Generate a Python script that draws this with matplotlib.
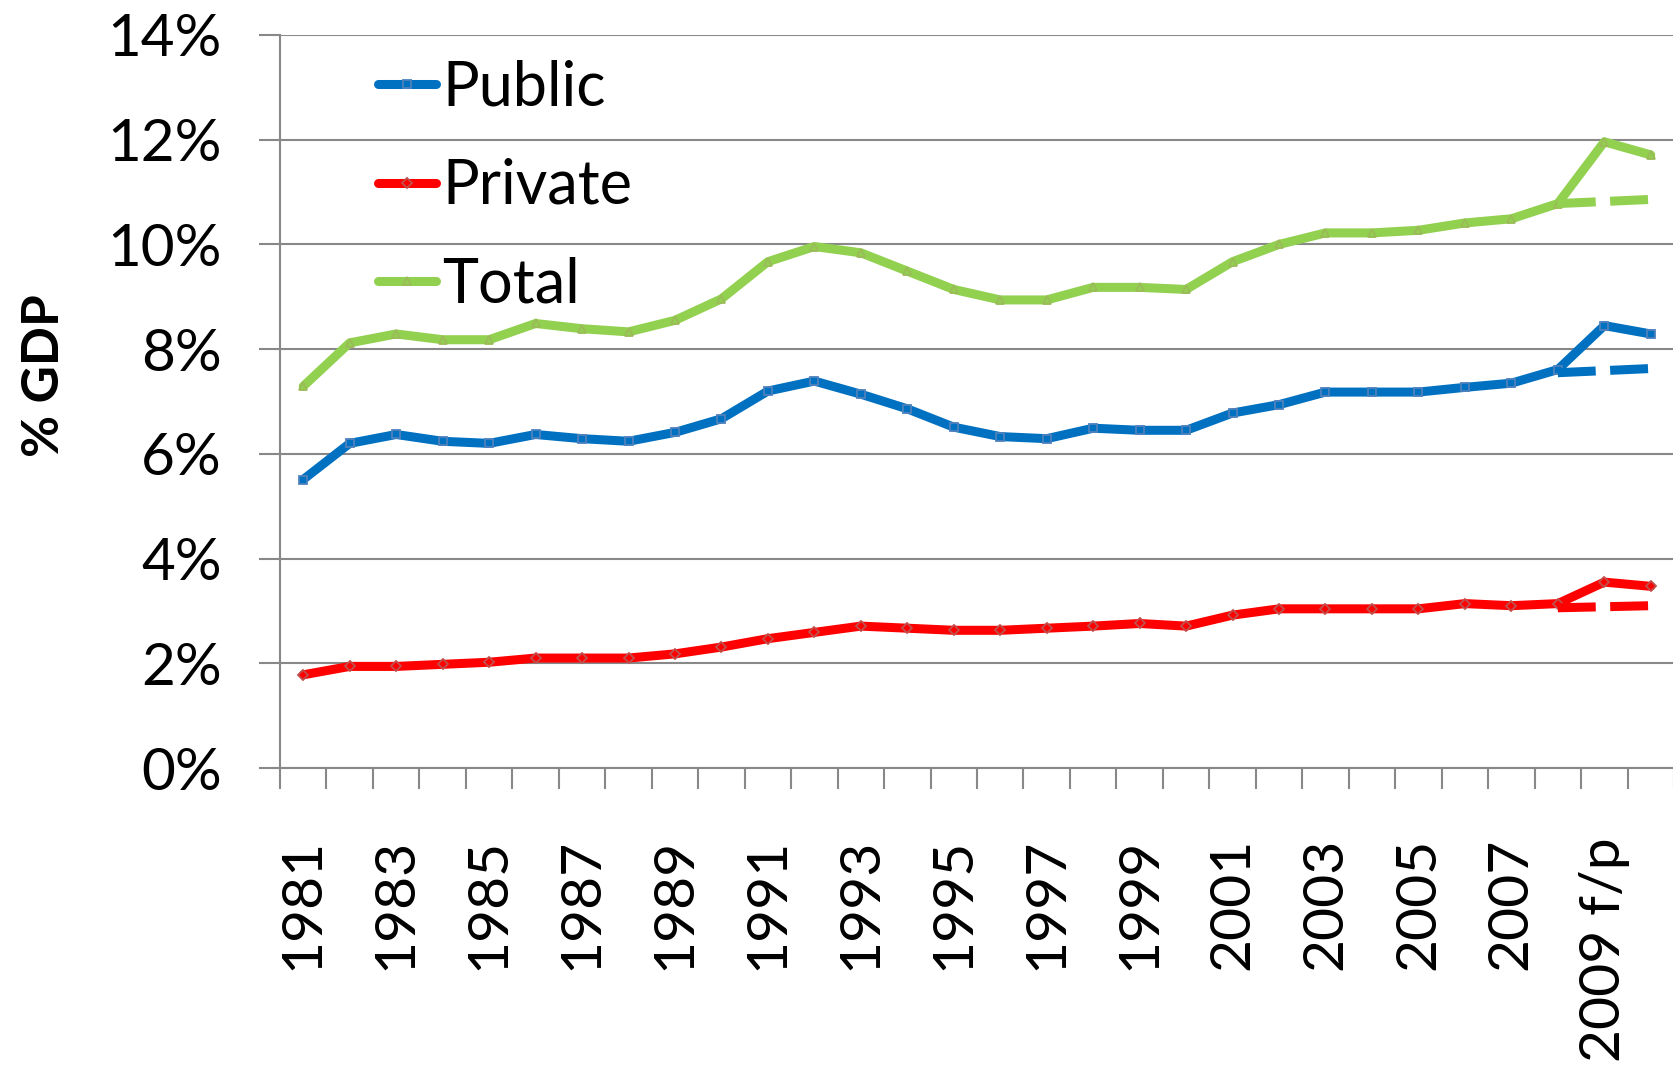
import numpy as np
import matplotlib
matplotlib.use('Agg')
import matplotlib.pyplot as plt
from matplotlib.ticker import FixedLocator, PercentFormatter

plt.rcParams['font.family'] = ['Lato', 'DejaVu Sans']

years = list(range(1981, 2011))
tick_labels = [str(y) for y in range(1981, 2009, 2)] + ['2009 f/p']

public = [5.51, 6.20, 6.37, 6.24, 6.20, 6.37, 6.29, 6.24, 6.41, 6.67,
          7.20, 7.39, 7.14, 6.86, 6.51, 6.33, 6.29, 6.49, 6.45, 6.45,
          6.78, 6.94, 7.18, 7.18, 7.18, 7.27, 7.35, 7.61, 8.45, 8.29]
private = [1.78, 1.94, 1.94, 1.98, 2.02, 2.10, 2.10, 2.10, 2.18, 2.31,
           2.47, 2.59, 2.71, 2.67, 2.63, 2.63, 2.67, 2.71, 2.76, 2.71,
           2.92, 3.04, 3.04, 3.04, 3.04, 3.14, 3.10, 3.14, 3.55, 3.47]
total = [7.29, 8.12, 8.29, 8.18, 8.18, 8.49, 8.39, 8.33, 8.55, 8.96,
         9.67, 9.96, 9.84, 9.49, 9.14, 8.94, 8.94, 9.18, 9.18, 9.14,
         9.67, 10.00, 10.22, 10.22, 10.27, 10.41, 10.49, 10.78, 11.96, 11.71]

# projections without the 2009 jump (dashed, 2008-2010)
proj_years = [2008, 2009, 2010]
public_proj = [7.55, 7.59, 7.63]
private_proj = [3.06, 3.08, 3.10]
total_proj = [10.78, 10.82, 10.86]

series = [
    ('Public', public, public_proj, '#0070C0', 's', '#4F81BD'),
    ('Private', private, private_proj, '#FF0000', 'D', '#C0504D'),
    ('Total', total, total_proj, '#92D050', '^', '#9BBB59'),
]

fig = plt.figure(figsize=(16.74, 10.73), dpi=100)
ax = fig.add_axes([280 / 1674, 1 - 768 / 1073, 1 - 280 / 1674, (768 - 35) / 1073])

x = np.arange(len(years))
xp = np.array([years.index(y) for y in proj_years])

for name, vals, proj, col, mk, mec in series:
    ax.plot(x, vals, color=col, lw=6.5, marker=mk, ms=5.5, mfc=col, mec=mec,
            mew=1.3, solid_joinstyle='round', solid_capstyle='round',
            label=name, zorder=3)
    ax.plot(xp, proj, color=col, lw=6.5, linestyle=(0, (4.2, 1.6)),
            dash_capstyle='butt', zorder=3)

ax.set_xlim(-0.5, len(years) - 0.5)
ax.set_ylim(0, 14)
ax.set_yticks(np.arange(0, 15, 2))
ax.yaxis.set_major_formatter(PercentFormatter(decimals=0))
ax.grid(axis='y', color='#888888', lw=1.5, zorder=0)

# labels every other year, tick marks between categories
ax.set_xticks(x[::2])
ax.set_xticklabels(tick_labels, rotation=90, va='top', ha='center')
ax.xaxis.set_minor_locator(FixedLocator(np.arange(-0.5, len(years), 1.0)))
ax.tick_params(axis='x', which='major', length=0, pad=50, labelsize=41)
ax.tick_params(axis='x', which='minor', length=15, width=1.5, color='#888888')
ax.tick_params(axis='y', length=15, width=1.5, color='#888888', pad=27, labelsize=42)

for side in ['top', 'right']:
    ax.spines[side].set_visible(False)
for side in ['left', 'bottom']:
    ax.spines[side].set_color('#888888')
    ax.spines[side].set_linewidth(1.5)

ax.set_ylabel('% GDP', fontsize=37, fontweight='bold')
ax.yaxis.set_label_coords(-0.152, 0.535)

ax.legend(loc='upper left', bbox_to_anchor=(0.053, 1.0), frameon=False,
          fontsize=44, handlelength=0.95, handletextpad=0.1,
          labelspacing=0.68, numpoints=1, borderaxespad=0)

fig.savefig('out.png', dpi=100)
